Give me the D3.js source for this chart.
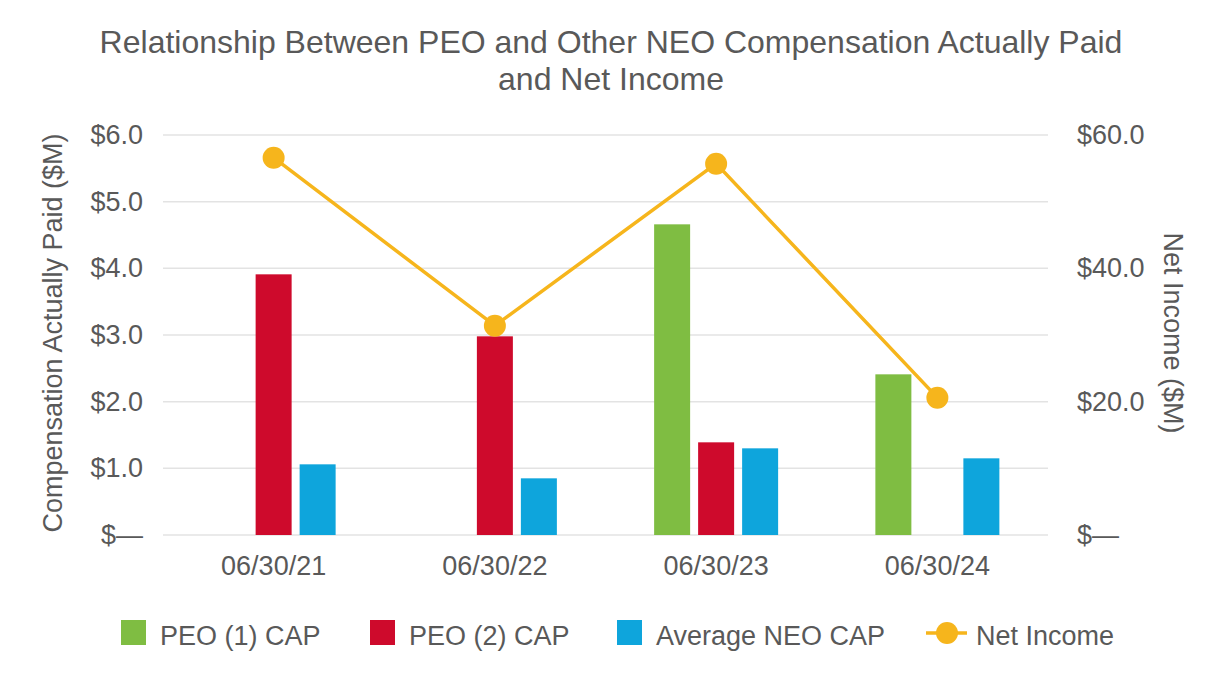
<!DOCTYPE html>
<html>
<head>
<meta charset="utf-8">
<script src="https://cdn.jsdelivr.net/npm/d3@7"></script>
<style>
  body { margin: 0; background: #fff; }
  text { font-family: "Liberation Sans", Arial, sans-serif; fill: #595959; }
</style>
</head>
<body>
<div id="viz"></div>
<script>
var width = 1226
var height = 690
var margin = {left: 163, right: 178, top: 135, bottom: 155}

// data
var categories = ["06/30/21", "06/30/22", "06/30/23", "06/30/24"]
var peo1 = [null, null, 4.66, 2.41]
var peo2 = [3.91, 2.98, 1.39, null]
var neoAvg = [1.06, 0.85, 1.30, 1.15]
var netIncome = [56.6, 31.4, 55.7, 20.6]
var leftTicks = [0, 1, 2, 3, 4, 5, 6]
var rightTicks = [0, 20, 40, 60]

var series = [
    {name: "PEO (1) CAP", values: peo1, color: "#7FBD42"},
    {name: "PEO (2) CAP", values: peo2, color: "#CE0A2C"},
    {name: "Average NEO CAP", values: neoAvg, color: "#0EA5DC"}
]
var lineColor = "#F6B51C"
var fontSize = "27px"

var svg = d3.select("#viz")
    .append("svg")
    .attr("width", width)
    .attr("height", height);

var x = d3.scaleBand()
    .domain(categories)
    .range([margin.left, width - margin.right])
var y = d3.scaleLinear().domain([0, 6]).range([height - margin.bottom, margin.top])
var y2 = d3.scaleLinear().domain([0, 60]).range([height - margin.bottom, margin.top])

// title
svg.append("text")
    .attr("x", 611).attr("y", 53)
    .attr("text-anchor", "middle")
    .style("font-size", "32px")
    .text("Relationship Between PEO and Other NEO Compensation Actually Paid")
svg.append("text")
    .attr("x", 611).attr("y", 90)
    .attr("text-anchor", "middle")
    .style("font-size", "32px")
    .text("and Net Income")

// gridlines
svg.append("g")
    .selectAll("line")
    .data(leftTicks)
    .join("line")
    .attr("x1", margin.left)
    .attr("x2", width - margin.right)
    .attr("y1", d => y(d))
    .attr("y2", d => y(d))
    .attr("stroke", "#e3e3e3")
    .attr("stroke-width", 1.5)

function money(v) {
    return v === 0 ? "$\u2014" : "$" + v.toFixed(1)
}

function styleAxis(g) {
    g.select(".domain").remove()
    g.selectAll("text").style("font-size", fontSize).attr("fill", "#595959")
        .style("font-family", "'Liberation Sans', Arial, sans-serif")
}

// left axis
var leftAxis = d3.axisLeft(y).tickValues(leftTicks).tickSize(0).tickPadding(20)
    .tickFormat(money)
svg.append("g")
    .attr("transform", "translate(" + margin.left + ",0)")
    .call(leftAxis)
    .call(styleAxis)

// right axis
var rightAxis = d3.axisRight(y2).tickValues(rightTicks).tickSize(0).tickPadding(29)
    .tickFormat(money)
svg.append("g")
    .attr("transform", "translate(" + (width - margin.right) + ",0)")
    .call(rightAxis)
    .call(styleAxis)

// x axis
var bottomAxis = d3.axisBottom(x).tickSize(0).tickPadding(21)
svg.append("g")
    .attr("transform", "translate(0," + (height - margin.bottom) + ")")
    .call(bottomAxis)
    .call(styleAxis)

// axis titles
svg.append("text")
    .attr("transform", "translate(62,333) rotate(-90)")
    .attr("text-anchor", "middle")
    .style("font-size", fontSize)
    .text("Compensation Actually Paid ($M)")
svg.append("text")
    .attr("transform", "translate(1164,333) rotate(90)")
    .attr("text-anchor", "middle")
    .style("font-size", fontSize)
    .text("Net Income ($M)")

// bars
var slot = 44
var barW = 36
series.forEach(function (s, i) {
    svg.append("g")
        .selectAll("rect")
        .data(categories.map((c, j) => ({c: c, v: s.values[j]})).filter(d => d.v != null))
        .join("rect")
        .attr("x", d => x(d.c) + x.bandwidth() / 2 + (i - 1) * slot - barW / 2)
        .attr("y", d => y(d.v))
        .attr("width", barW)
        .attr("height", d => y(0) - y(d.v))
        .attr("fill", s.color)
})

// net income line
var line = d3.line()
    .x((d, j) => x(categories[j]) + x.bandwidth() / 2)
    .y(d => y2(d))
svg.append("path")
    .datum(netIncome)
    .attr("d", line)
    .attr("fill", "none")
    .attr("stroke", lineColor)
    .attr("stroke-width", 3.5)
svg.append("g")
    .selectAll("circle")
    .data(netIncome)
    .join("circle")
    .attr("cx", (d, j) => x(categories[j]) + x.bandwidth() / 2)
    .attr("cy", d => y2(d))
    .attr("r", 11)
    .attr("fill", lineColor)

// legend
var legendY = 633
var legendX = [121, 370, 617]
series.forEach(function (s, i) {
    svg.append("rect")
        .attr("x", legendX[i]).attr("y", legendY - 13)
        .attr("width", 25).attr("height", 25)
        .attr("fill", s.color)
    svg.append("text")
        .attr("x", legendX[i] + 39).attr("y", legendY + 12)
        .style("font-size", fontSize)
        .text(s.name)
})
svg.append("line")
    .attr("x1", 926).attr("x2", 967)
    .attr("y1", legendY).attr("y2", legendY)
    .attr("stroke", lineColor).attr("stroke-width", 3.5)
svg.append("circle")
    .attr("cx", 947).attr("cy", legendY).attr("r", 11)
    .attr("fill", lineColor)
svg.append("text")
    .attr("x", 976).attr("y", legendY + 12)
    .style("font-size", fontSize)
    .text("Net Income")
</script>
</body>
</html>
